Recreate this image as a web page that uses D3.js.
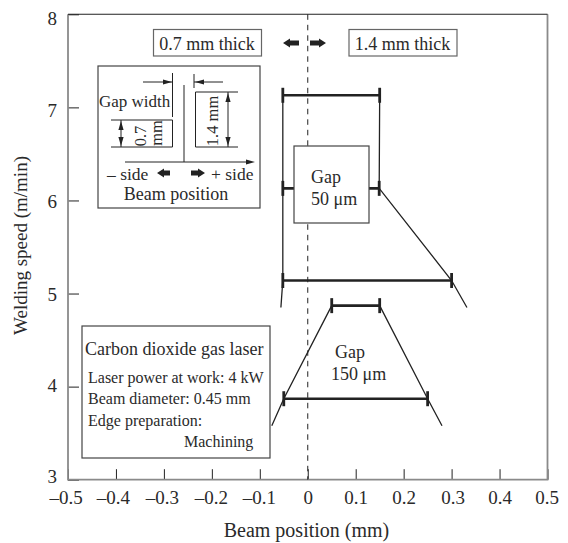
<!DOCTYPE html>
<html>
<head>
<meta charset="utf-8">
<script src="https://cdn.jsdelivr.net/npm/d3@7"></script>
<style>
  html, body { margin: 0; padding: 0; background: #fff; }
  svg { display: block; }
  text { font-family: "Liberation Serif", serif; fill: #2a2a2a; }
</style>
</head>
<body>
<div id="chart"></div>
<script>
'use strict';
// Tick labels
var xTicks = [-0.5, -0.4, -0.3, -0.2, -0.1, 0, 0.1, 0.2, 0.3, 0.4, 0.5];
var yTicks = [3, 4, 5, 6, 7, 8];

// Measured ranges: welding speed, left and right beam position
var gap50Speed = [7.13, 6.13, 5.14];
var gap50Left = [-0.052, -0.052, -0.052];
var gap50Right = [0.15, 0.149, 0.3];

var gap150Speed = [4.87, 3.87];
var gap150Left = [0.05, -0.05];
var gap150Right = [0.15, 0.25];

// Envelope lines
var env50LeftX = [-0.052, -0.052, -0.052, -0.056];
var env50LeftY = [7.13, 6.13, 5.14, 4.85];
var env50RightX = [0.15, 0.149, 0.3, 0.332];
var env50RightY = [7.13, 6.13, 5.14, 4.85];
var env150LeftX = [0.05, -0.05, -0.075];
var env150LeftY = [4.87, 3.87, 3.58];
var env150RightX = [0.15, 0.25, 0.28];
var env150RightY = [4.87, 3.87, 3.58];

var w = 568;
var h = 543;
var margin = { left: 68, right: 20.5, top: 14.3, bottom: 63.3 };
var ink = '#222';
var frameGrey = '#8a8a8a';

// Hand-set labels in the scan sit slightly off their ticks
var xLabelShift = [-2.5, -3, -2, -1, -1, 0, 0, 0, 1, 0, -1];
var yLabelShift = [-3.7, -1, 0.5, 0.5, 3, 3.7];

var x = d3.scaleLinear().domain([-0.5, 0.5]).range([margin.left, w - margin.right]);
var y = d3.scaleLinear().domain([3, 8]).range([h - margin.bottom, margin.top]);

var svg = d3.select('#chart').append('svg').attr('width', w).attr('height', h);

// Axes
var fmt = function(d) {
  if (d === 0) return '0';
  return (d < 0 ? '\u2013' : '') + Math.abs(d).toFixed(1);
};
var xAxis = d3.axisBottom(x).tickValues(xTicks).tickFormat(fmt).tickSizeInner(-10.5).tickSizeOuter(0).tickPadding(11);
var yAxis = d3.axisLeft(y).tickValues(yTicks).tickFormat(d3.format('d')).tickSizeInner(-11).tickSizeOuter(0).tickPadding(11);

var gx = svg.append('g').attr('transform', 'translate(0,' + y(3) + ')').call(xAxis);
var gy = svg.append('g').attr('transform', 'translate(' + x(-0.5) + ',0)').call(yAxis);
[gx, gy].forEach(function(g) {
  g.select('.domain').remove();
  g.selectAll('line').attr('stroke', ink).attr('stroke-width', 1);
  g.selectAll('text').style('font-size', '19px').attr('font-family', null);
});
gx.selectAll('text').attr('dx', function(d, i) { return xLabelShift[i]; });
gy.selectAll('text').attr('transform', function(d, i) { return 'translate(0,' + yLabelShift[i] + ')'; });

// Frame: the scan shows the top edge darker than the others
svg.append('path')
  .attr('d', 'M' + x(-0.5) + ',' + y(8) + 'V' + y(3) + 'H' + x(0.5) + 'V' + y(8))
  .attr('fill', 'none').attr('stroke', frameGrey).attr('stroke-width', 1.8);
svg.append('line')
  .attr('x1', x(-0.5)).attr('x2', x(0.5)).attr('y1', y(8)).attr('y2', y(8))
  .attr('stroke', ink).attr('stroke-width', 1.1);

// Axis titles
svg.append('text').attr('x', 306.5).attr('y', 537).attr('text-anchor', 'middle')
  .style('font-size', '20px').text('Beam position (mm)');
svg.append('text').attr('transform', 'translate(27,245.5) rotate(-90)').attr('text-anchor', 'middle')
  .style('font-size', '19px').text('Welding speed (m/min)');

// Zero line
svg.append('line')
  .attr('x1', x(0)).attr('x2', x(0)).attr('y1', y(8)).attr('y2', y(3))
  .attr('stroke', ink).attr('stroke-width', 1).attr('stroke-dasharray', '5.5,5');

// Envelope lines
var line = d3.line().x(function(d) { return x(d[0]); }).y(function(d) { return y(d[1]); });
[[env50LeftX, env50LeftY], [env50RightX, env50RightY], [env150LeftX, env150LeftY], [env150RightX, env150RightY]].forEach(function(e) {
  svg.append('path')
    .attr('d', line(d3.zip(e[0], e[1])))
    .attr('fill', 'none').attr('stroke', ink).attr('stroke-width', 1.3);
});

// Range bars
var drawRanges = function(speeds, lefts, rights) {
  speeds.forEach(function(s, i) {
    svg.append('line')
      .attr('x1', x(lefts[i])).attr('x2', x(rights[i])).attr('y1', y(s)).attr('y2', y(s))
      .attr('stroke', ink).attr('stroke-width', 2.6);
    [lefts[i], rights[i]].forEach(function(v) {
      svg.append('line')
        .attr('x1', x(v)).attr('x2', x(v)).attr('y1', y(s) - 7.5).attr('y2', y(s) + 7.5)
        .attr('stroke', ink).attr('stroke-width', 2.8);
    });
  });
};
drawRanges(gap50Speed, gap50Left, gap50Right);
drawRanges(gap150Speed, gap150Left, gap150Right);

// Boxed notes
var box = function(bx, by, bw, bh, stroke) {
  svg.append('rect').attr('x', bx).attr('y', by).attr('width', bw).attr('height', bh)
    .attr('fill', '#fff').attr('stroke', stroke || '#444').attr('stroke-width', 1.2);
};
var label = function(tx, ty, str, size, anchor) {
  return svg.append('text').attr('x', tx).attr('y', ty)
    .attr('text-anchor', anchor || 'start').style('font-size', size + 'px').text(str);
};

box(153.5, 29.5, 108, 26.5, '#666');
label(207, 50, '0.7 mm thick', 18, 'middle');
box(349, 29.5, 108, 26.5, '#666');
label(402.5, 50, '1.4 mm thick', 18, 'middle');

box(294, 146, 75, 77);
label(311, 183, 'Gap', 18);
label(311, 205, '50 \u03bcm', 18);
label(335, 358, 'Gap', 18);
label(331, 380, '150 \u03bcm', 18);

// Thick arrows
var arrow = function(ax, ay, dir, len) {
  svg.append('path')
    .attr('transform', 'translate(' + ax + ',' + ay + ') scale(' + dir + ',1)')
    .attr('d', 'M0,-2.4H' + (len - 7) + 'V-4.6L' + len + ',0L' + (len - 7) + ',4.6V2.4H0Z')
    .attr('fill', ink);
};
arrow(299, 43, -1, 16);
arrow(310, 43, 1, 16);

// Inset diagram
box(98, 66, 162, 142);
var thin = function(pts) {
  svg.append('path').attr('d', d3.line()(pts)).attr('fill', 'none').attr('stroke', ink).attr('stroke-width', 1);
};
var head = function(hx, hy, angle) {
  svg.append('path')
    .attr('transform', 'translate(' + hx + ',' + hy + ') rotate(' + angle + ')')
    .attr('d', 'M0,0L-9,-2.6L-9,2.6Z').attr('fill', ink);
};
thin([[172.5, 73], [172.5, 117]]);
thin([[184, 85], [184, 162]]);
thin([[194, 74], [194, 88]]);
thin([[143, 82], [172, 82]]); head(172, 82, 0);
thin([[194, 82], [223, 82]]); head(195, 82, 180);
thin([[111, 120], [172.5, 120], [172.5, 147], [111, 147]]);
thin([[121, 120], [121, 147]]); head(121, 121, -90); head(121, 146, 90);
thin([[238, 92], [195.5, 92], [195.5, 147], [238, 147]]);
thin([[228, 92], [228, 147]]); head(228, 93, -90); head(228, 146, 90);
thin([[125, 162], [250, 162]]); head(255, 162, 0);
label(99, 107, 'Gap width', 17);
var vLabel = function(vx, vy, str) {
  svg.append('text').attr('transform', 'translate(' + vx + ',' + vy + ') rotate(-90)').attr('text-anchor', 'middle')
    .style('font-size', '16.5px').text(str);
};
vLabel(146, 136, '0.7');
vLabel(162, 133, 'mm');
vLabel(218, 121, '1.4 mm');
label(107, 180, '\u2013 side', 17.5);
label(211, 180, '+ side', 17.5);
arrow(170, 173, -1, 13);
arrow(191, 173, 1, 14);
label(176, 200, 'Beam position', 18, 'middle');

// Laser conditions
box(82, 326, 188, 132);
label(85, 355, 'Carbon dioxide gas laser', 18);
label(88, 383, 'Laser power at work: 4 kW', 16);
label(88, 404, 'Beam diameter: 0.45 mm', 16);
label(88, 426, 'Edge preparation:', 16);
label(184, 447, 'Machining', 16);
</script>
</body>
</html>
